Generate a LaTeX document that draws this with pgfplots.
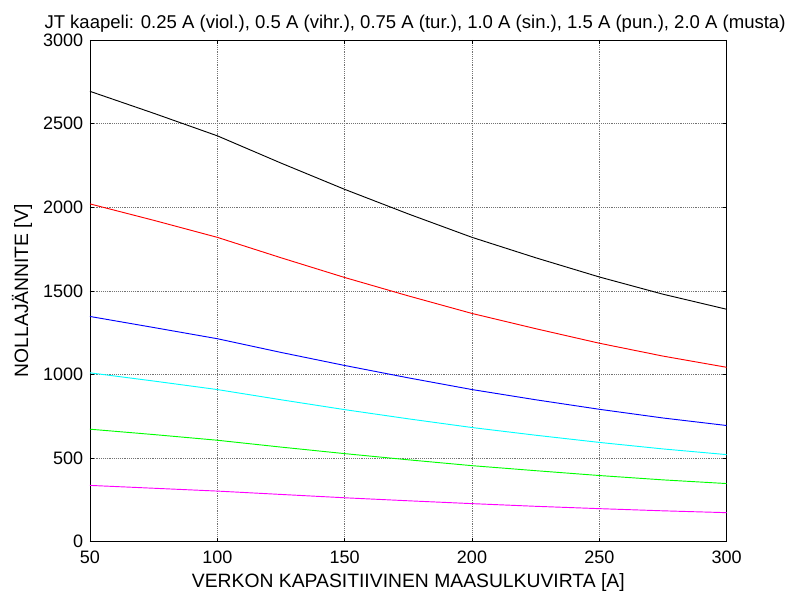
\documentclass[border=0pt]{standalone}
\usepackage{fontspec}
\setmainfont{Liberation Sans}
\usepackage{pgfplots}
\pgfplotsset{compat=1.18}

\definecolor{mviol}{rgb}{1,0,1}
\definecolor{mvihr}{rgb}{0,1,0}
\definecolor{mtur}{rgb}{0,1,1}
\definecolor{msin}{rgb}{0,0,1}
\definecolor{mpun}{rgb}{1,0,0}

% nollajännite [V] vs. verkon kapasitiivinen maasulkuvirta [A]
\pgfplotstableread{
x    viol  vihr  tur   sin   pun   musta
50   337   673   1010  1347  2020  2693
75   320   641   961   1281  1922  2562
100  303   607   910   1214  1820  2427
125  283   566   849   1132  1698  2264
150  263   527   790   1054  1580  2107
175  245   490   735   980   1470  1960
200  228   455   683   910   1365  1820
225  212   425   637   849   1274  1698
250  198   396   594   792   1187  1583
275  185   370   555   740   1110  1480
300  174   348   521   695   1043  1390
}\jtdata

\begin{document}
\begin{tikzpicture}
\begin{axis}[
  scale only axis,
  width=477.75pt, height=376.5pt,
  xmin=50, xmax=300, ymin=0, ymax=3000,
  xtick={50,100,...,300}, ytick={0,500,...,3000},
  tick align=inside,
  major tick length=3pt,
  tick style={black, thin},
  axis line style={black, thin},
  grid=major,
  grid style={densely dotted, black!55, thin},
  ticklabel style={font=\fontsize{13.5}{15}\selectfont},
  xticklabel style={yshift=-3pt},
  yticklabel style={xshift=-1.5pt},
  /pgf/number format/assume math mode=true,
  /pgf/number format/1000 sep={},
  xlabel={VERKON KAPASITIIVINEN MAASULKUVIRTA [A]},
  ylabel={NOLLAJÄNNITE [V]},
  label style={font=\fontsize{14.5}{16}\selectfont},
  xlabel style={yshift=-1pt},
  ylabel style={yshift=1.5pt},
  title={JT kaapeli: 0.25 A (viol.), 0.5 A (vihr.), 0.75 A (tur.), 1.0 A (sin.), 1.5 A (pun.), 2.0 A (musta)},
  title style={font=\fontsize{13.9}{16}\selectfont, yshift=-4pt, xshift=5pt},
  every axis plot/.append style={line width=0.7pt},
]
  \addplot[no marks, mviol] table[x=x, y=viol] {\jtdata};
  \addplot[no marks, mvihr] table[x=x, y=vihr] {\jtdata};
  \addplot[no marks, mtur] table[x=x, y=tur] {\jtdata};
  \addplot[no marks, msin] table[x=x, y=sin] {\jtdata};
  \addplot[no marks, mpun] table[x=x, y=pun] {\jtdata};
  \addplot[no marks, black] table[x=x, y=musta] {\jtdata};
\end{axis}
\path ([shift={(-67.5pt,-39pt)}]current axis.south west) rectangle ([shift={(49pt,30pt)}]current axis.north east);
\end{tikzpicture}
\end{document}
